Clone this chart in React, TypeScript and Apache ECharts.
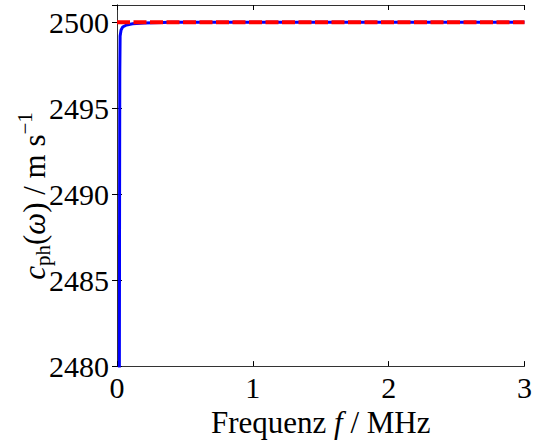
import React, { useEffect, useRef } from "react";
import * as echarts from "echarts";

// Frequency axis (MHz) and phase velocity c_ph (m/s)
const freqMHz = [0.0172, 0.019, 0.0205, 0.023, 0.03, 0.042, 0.07, 0.115, 0.2, 0.4, 1, 2, 3];
const phaseVelocity = [2478, 2490, 2497, 2499.2, 2499.55, 2499.72, 2499.84, 2499.91, 2499.96, 2499.99, 2500, 2500, 2500];

// Reference (non-dispersive) sound speed
const refFreq = [0, 3];
const refVelocity = [2500, 2500];

const xTicks = [0, 1, 2, 3];
const yTicks = [2480, 2485, 2490, 2495, 2500];

const SERIF = "Liberation Serif, Times New Roman, serif";

type Piece = { text: string; size: number; italic?: boolean; dy: number };

const yLabelPieces: Piece[] = [
  { text: "c", size: 31, italic: true, dy: 0 },
  { text: "ph", size: 21, dy: 6 },
  { text: "(", size: 31, dy: 0 },
  { text: "ω", size: 31, italic: true, dy: 0 },
  { text: ")", size: 31, dy: 0 },
  { text: " / m s", size: 31, dy: 0 },
  { text: "−1", size: 21, dy: -12 },
];

function buildYLabel(cx: number, cy: number) {
  const canvas = document.createElement("canvas");
  const ctx = canvas.getContext("2d")!;
  const widths = yLabelPieces.map((p) => {
    ctx.font = `${p.italic ? "italic " : ""}${p.size}px ${SERIF}`;
    return ctx.measureText(p.text).width;
  });
  const total = widths.reduce((a, b) => a + b, 0);
  let x = -total / 2;
  const children = yLabelPieces.map((p, i) => {
    const el = {
      type: "text",
      x,
      // middle-aligned pieces: shift so that baselines line up
      y: p.dy + 0.3 * (31 - p.size),
      style: {
        text: p.text,
        fontSize: p.size,
        fontFamily: SERIF,
        fontStyle: p.italic ? "italic" : "normal",
        fill: "#000",
        align: "left",
        verticalAlign: "middle",
      },
    };
    x += widths[i];
    return el;
  });
  return {
    type: "group",
    x: cx,
    y: cy,
    rotation: Math.PI / 2,
    children,
  };
}

export default function App() {
  const ref = useRef<HTMLDivElement>(null);

  useEffect(() => {
    if (!ref.current) return;
    const chart = echarts.init(ref.current, undefined, { renderer: "svg" });

    const curve = freqMHz.map((f, i) => [f, phaseVelocity[i]]);
    const refLine = refFreq.map((f, i) => [f, refVelocity[i]]);

    const boxLine = { show: true, lineStyle: { color: "#333", width: 1 } };
    const tickIn = { show: true, inside: true, length: 5, lineStyle: { color: "#000", width: 1 } };

    chart.setOption({
      animation: false,
      backgroundColor: "#fff",
      textStyle: { fontFamily: SERIF, color: "#000" },
      grid: { left: 117, top: 5, right: 9, bottom: 67, containLabel: false },
      xAxis: [
        {
          type: "value",
          min: 0,
          max: 3,
          interval: 1,
          axisLine: boxLine,
          axisTick: tickIn,
          splitLine: { show: false },
          axisLabel: {
            margin: 6,
            fontSize: 30,
            fontFamily: SERIF,
            color: "#000",
            formatter: (v: number) => (xTicks.includes(v) ? String(v) : ""),
          },
          name: "Frequenz {i|f} / MHz",
          nameLocation: "middle",
          nameGap: 29,
          nameTextStyle: {
            fontSize: 31,
            fontFamily: SERIF,
            color: "#000",
            rich: { i: { fontSize: 31, fontFamily: SERIF, fontStyle: "italic", color: "#000" } },
          },
        },
        {
          type: "value",
          position: "top",
          min: 0,
          max: 3,
          interval: 1,
          axisLine: boxLine,
          axisTick: tickIn,
          axisLabel: { show: false },
          splitLine: { show: false },
        },
      ],
      yAxis: [
        {
          type: "value",
          min: 2480,
          max: 2501,
          interval: 5,
          axisLine: boxLine,
          axisTick: tickIn,
          splitLine: { show: false },
          axisLabel: {
            margin: 8,
            fontSize: 30,
            fontFamily: SERIF,
            color: "#000",
            showMaxLabel: false,
            formatter: (v: number) => (yTicks.includes(v) ? String(v) : ""),
          },
        },
        {
          type: "value",
          position: "right",
          min: 2480,
          max: 2501,
          interval: 5,
          axisLine: boxLine,
          axisTick: tickIn,
          axisLabel: { show: false },
          splitLine: { show: false },
        },
      ],
      graphic: [buildYLabel(34, 196)],
      series: [
        {
          type: "line",
          data: curve,
          xAxisIndex: 0,
          yAxisIndex: 0,
          showSymbol: false,
          clip: true,
          lineStyle: { color: "#0000ff", width: 3 },
          z: 2,
        },
        {
          type: "line",
          data: refLine,
          xAxisIndex: 0,
          yAxisIndex: 0,
          showSymbol: false,
          clip: true,
          lineStyle: { color: "#ff0000", width: 4, type: [13, 3.5] },
          z: 3,
        },
      ],
    });

    return () => chart.dispose();
  }, []);

  return (
    <div
      ref={ref}
      style={{ position: "fixed", left: 0, top: 0, width: 535, height: 443 }}
    />
  );
}
